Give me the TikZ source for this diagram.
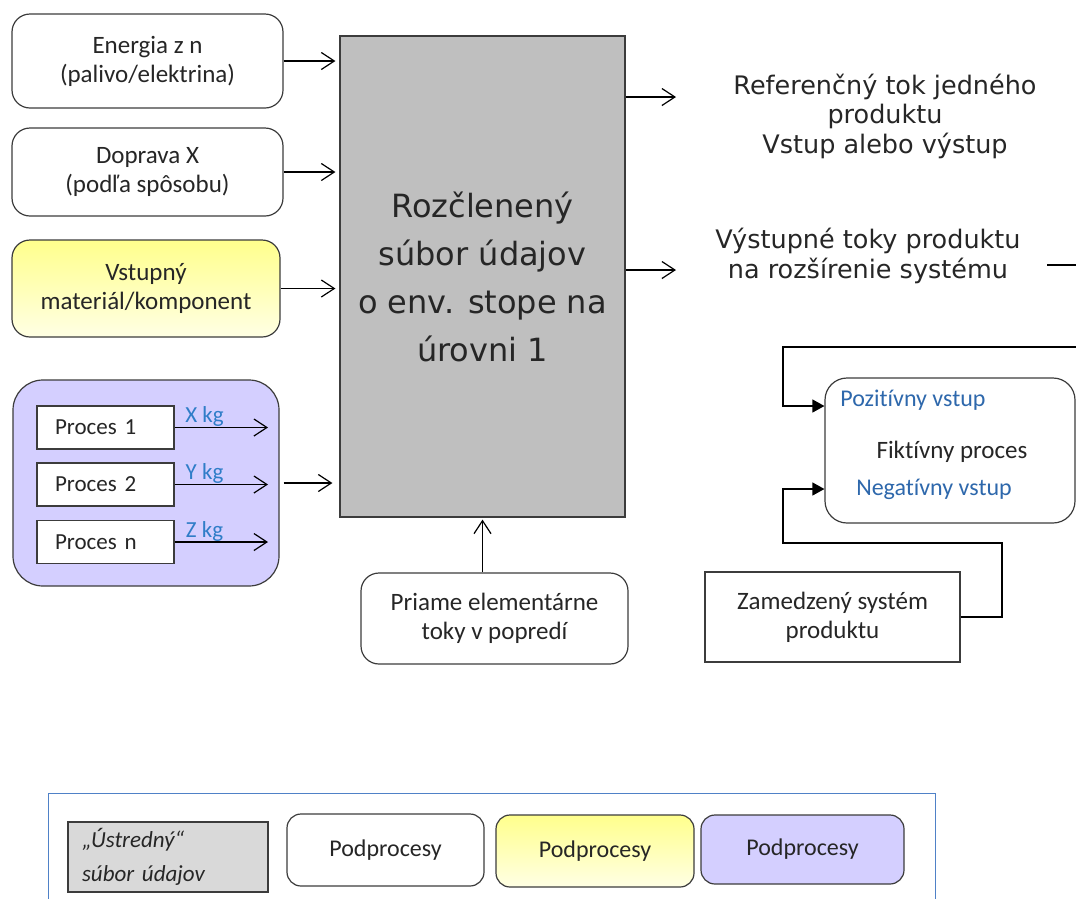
\documentclass[tikz,border=0pt]{standalone}
\usepackage{fontspec}
\setmainfont{Carlito}[Ligatures=NoCommon]
\newfontfamily\verdfont{DejaVu Sans}
\usepackage{xcolor}
\usetikzlibrary{arrows.meta}

\definecolor{coregray}{RGB}{191,191,191}
\definecolor{legendgray}{RGB}{217,217,217}
\definecolor{subviolet}{RGB}{212,207,255}
\definecolor{subytop}{RGB}{255,255,140}
\definecolor{subybot}{RGB}{255,255,228}
\definecolor{kgblue}{RGB}{47,125,200}
\definecolor{inblue}{RGB}{46,104,172}
\definecolor{legendblue}{RGB}{79,129,199}
\definecolor{edgegray}{RGB}{60,60,60}

\begin{document}
\begin{tikzpicture}[x=1pt, y=-1pt, >={Straight Barb[length=13pt,width=17pt]}]
    \useasboundingbox (0,0) rectangle (1076,898);
    \clip (0,0) rectangle (1076,898);

        %--- Styles
        \tikzstyle{sub box}=[draw=edgegray, line width=1.2pt, rounded corners=18pt, inner sep=0pt, align=center, text=black!85, font=\fontsize{25}{29}\selectfont]
        \tikzstyle{proc box}=[draw=edgegray, fill=white, line width=1.2pt, minimum width=137pt, minimum height=43pt, text width=101pt, inner xsep=18pt, inner ysep=0pt, align=left, text=black!85, font=\fontsize{23}{27}\selectfont]
        \tikzstyle{kg label}=[inner sep=0pt, anchor=base, yshift=5pt, text=kgblue, font=\fontsize{23}{27}\selectfont]
        \tikzstyle{flow text}=[align=center, inner sep=0pt, text=black!85, font=\verdfont\fontsize{25.5}{29.5}\selectfont]
        \tikzstyle{fict text}=[inner sep=0pt, font=\fontsize{24}{28}\selectfont]
        \tikzstyle{flow}=[->, line width=1.2pt]
        \tikzstyle{feed}=[-{Triangle[length=12pt,width=13pt]}, line width=1.2pt]
        \tikzstyle{legend box}=[sub box, rounded corners=14pt, minimum height=72pt, font=\fontsize{24}{28}\selectfont]

        %--- Inputs on the left
        \node[sub box, fill=white, minimum width=271pt, minimum height=94pt] (energia) at (147.5,61) {Energia z n\\(palivo/elektrina)};
        \node[sub box, fill=white, minimum width=271pt, minimum height=88pt] (doprava) at (147.5,172) {Doprava X\\(podľa spôsobu)};
        \node[sub box, top color=subytop, bottom color=subybot, minimum width=268pt, minimum height=97pt] (vstup) at (146,288.5) {Vstupný\\materiál/komponent};

        %--- Group of processes
        \node[sub box, fill=subviolet, rounded corners=30pt, minimum width=266pt, minimum height=206pt] (group) at (146,483) {};
        \node[proc box] (p1) at (105.5,427.5) {Proces 1};
        \node[proc box] (p2) at (105.5,484.5) {Proces 2};
        \node[proc box] (pn) at (105.5,542)   {Proces n};
        \coordinate (o1) at (268,427.5);
        \coordinate (o2) at (268,484.5);
        \coordinate (on) at (268,542);
        \draw[flow] (p1) -- (o1) node[kg label, pos=0.32] {X kg};
        \draw[flow] (p2) -- (o2) node[kg label, pos=0.32] {Y kg};
        \draw[flow] (pn) -- (on) node[kg label, pos=0.32] {Z kg};

        %--- Core data set
        \node[draw=edgegray, fill=coregray, line width=1.2pt, minimum width=285pt, minimum height=481pt, inner sep=0pt, align=center, text=black!85, font=\verdfont\fontsize{32}{48}\selectfont] (core) at (482.5,276.5) {Rozčlenený\\súbor údajov\\o env. stope na\\úrovni 1};

        % Flows into the core
        \draw[flow, shorten >=4pt] (energia.east) -- (energia.east -| core.west);
        \draw[flow, shorten >=4pt] (doprava.east) -- (doprava.east -| core.west);
        \draw[flow, shorten >=4pt] (vstup.east) -- (vstup.east -| core.west);
        \draw[flow, shorten <=4pt, shorten >=7pt] (group.east) -- (group.east -| core.west);

        \node[sub box, fill=white, minimum width=267pt, minimum height=91pt] (priame) at (494.5,618.5) {Priame elementárne\\toky v popredí};
        \draw[flow, shorten >=2pt] (core.south |- priame.north) -- (core.south);

        %--- Outputs on the right
        \node[flow text] (ref) at (885,116) {Referenčný tok jedného\\produktu\\Vstup alebo výstup};
        \node[flow text] (ext) at (868,256) {Výstupné toky produktu\\na rozšírenie systému};
        \coordinate (refin) at (676,97);
        \coordinate (extin) at (676,270);
        \draw[flow] (core.east |- refin) -- (refin);
        \draw[flow] (core.east |- extin) -- (extin);

        %--- System expansion
        \node[sub box, fill=white, rounded corners=22pt, minimum width=250pt, minimum height=145pt] (fikt) at (950,450.5) {};
        \node[fict text, text=inblue] (poz) at (913,400) {Pozitívny vstup};
        \node[fict text, text=black!85, font=\fontsize{25}{29}\selectfont] (fiktlbl) at (952,452) {Fiktívny proces};
        \node[fict text, text=inblue] (neg) at (934,489) {Negatívny vstup};
        \node[draw=edgegray, fill=white, line width=1.2pt, minimum width=255pt, minimum height=90pt, inner sep=0pt, align=center, text=black!85, font=\fontsize{25}{29}\selectfont] (zamedz) at (832.5,617) {Zamedzený systém\\produktu};

        \coordinate (pozin) at ([yshift=44.5pt]fikt.west);
        \coordinate (negin) at ([yshift=-38.5pt]fikt.west);
        \coordinate (extout) at (1047,265);
        \draw[feed] (extout) -- (1100,265) |- (783,347) |- (pozin);
        \draw[feed] (zamedz.east) -| (1002,543) -- (783,543) |- (negin);

        %--- Legend
        \node[draw=legendblue, line width=1pt, minimum width=887pt, minimum height=140pt, inner sep=0pt] (legend) at (491.5,863) {};
        \node[draw=edgegray, fill=legendgray, line width=1.5pt, minimum width=200pt, minimum height=70pt, text width=172pt, inner xsep=14pt, inner ysep=0pt, align=left, text=black!85, font=\itshape\fontsize{23}{34}\selectfont] (lcore) at (168,857) {„Ústredný“\\súbor údajov};
        \node[legend box, fill=white, minimum width=197pt] (lwhite) at (385.5,850) {Podprocesy};
        \node[legend box, top color=subytop, bottom color=subybot, minimum width=198pt] (lyellow) at (595,851) {Podprocesy};
        \node[legend box, fill=subviolet, minimum width=203pt, minimum height=69pt] (lviolet) at (802.5,849.5) {Podprocesy};

\end{tikzpicture}
\end{document}
